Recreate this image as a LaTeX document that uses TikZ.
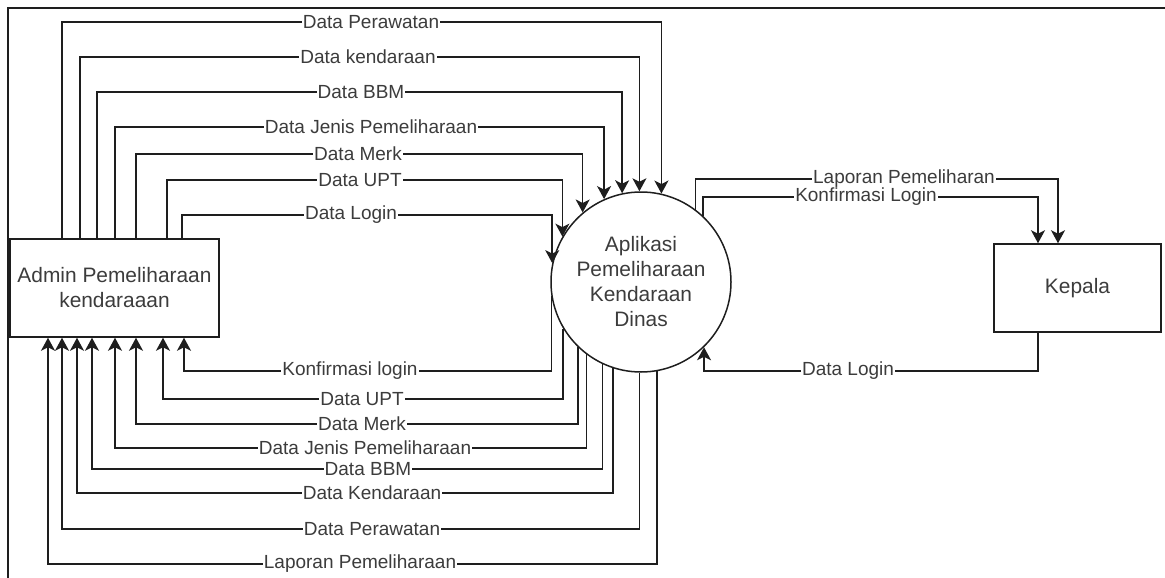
\documentclass[tikz,border=0pt]{standalone}
\usepackage{fontspec}
\setmainfont{Liberation Sans}
\usetikzlibrary{arrows.meta}
\definecolor{ink}{RGB}{30,30,30}
\definecolor{txt}{RGB}{60,60,60}

\begin{document}
\begin{tikzpicture}[x=1pt,y=-1pt,
  flow/.style={draw=ink, line width=1.5pt,
    -{Stealth[length=13pt,width=14pt,inset=3.5pt]}},
  lbl/.style={fill=white, text=txt, font=\fontsize{19}{22}\selectfont,
    inner xsep=1pt, inner ysep=0.5pt},
  entity/.style={draw=ink, line width=1.5pt, rectangle, inner sep=0pt,
    text=txt, font=\fontsize{20.9}{25}\selectfont, align=center},
  process/.style={draw=ink, line width=1.5pt, circle, inner sep=0pt,
    minimum size=180pt, text=txt, font=\fontsize{20.9}{25}\selectfont,
    align=center},
]
\useasboundingbox (0,0) rectangle (1165,578);

% page frame
\draw[ink, line width=2.2pt] (1165,8) -- (8,8) -- (8,578);

% entities and process
\node[entity, minimum width=209pt, minimum height=98pt] (admin) at (114.5,288)
  {Admin Pemeliharaan\\kendaraaan};
\node[entity, minimum width=167pt, minimum height=88pt] (kep) at (1077.5,288)
  {Kepala};
\node[process] (c) at (641,282)
  {Aplikasi\\Pemeliharaan\\Kendaraan\\Dinas};

% admin -> process
\draw[flow] (admin.north -| 62,0)  |- (c.77 |- 0,22)  -- (c.77)
  node[lbl] at (371,22) {Data Perawatan};
\draw[flow] (admin.north -| 80,0)  |- (c.91 |- 0,57)  -- (c.91)
  node[lbl] at (368,57) {Data kendaraan};
\draw[flow] (admin.north -| 97,0)  |- (c.102 |- 0,92) -- (c.102)
  node[lbl] at (361,92) {Data BBM};
\draw[flow] (admin.north -| 115,0) |- (c.114 |- 0,127) -- (c.114)
  node[lbl] at (371,127) {Data Jenis Pemeliharaan};
\draw[flow] (admin.north -| 136,0) |- (c.130 |- 0,154) -- (c.130)
  node[lbl] at (358,154) {Data Merk};
\draw[flow] (admin.north -| 167,0) |- (c.150 |- 0,180) -- (c.150)
  node[lbl] at (360,180) {Data UPT};
\draw[flow] (admin.north -| 182,0) |- (c.168 |- 0,215) -- (c.168)
  node[lbl] at (351,215) {Data Login};

% process -> admin
\draw[flow] (c.189) -- (c.189 |- 0,371) -| (admin.south -| 184,0)
  node[lbl] at (350,371) {Konfirmasi login};
\draw[flow] (c.211) -- (c.211 |- 0,399) -| (admin.south -| 163,0)
  node[lbl] at (362,399) {Data UPT};
\draw[flow] (c.226) -- (c.226 |- 0,424) -| (admin.south -| 136,0)
  node[lbl] at (362,424) {Data Merk};
\draw[flow] (c.233) -- (c.233 |- 0,448) -| (admin.south -| 115,0)
  node[lbl] at (365,448) {Data Jenis Pemeliharaan};
\draw[flow] (c.245) -- (c.245 |- 0,469) -| (admin.south -| 92,0)
  node[lbl] at (368,469) {Data BBM};
\draw[flow] (c.252) -- (c.252 |- 0,493) -| (admin.south -| 77,0)
  node[lbl] at (372,493) {Data Kendaraan};
\draw[flow] (c.269) -- (c.269 |- 0,529) -| (admin.south -| 62,0)
  node[lbl] at (372,529) {Data Perawatan};
\draw[flow] (c.280) -- (c.280 |- 0,564) -| (admin.south -| 48,0)
  node[lbl] at (360,564) {Laporan Pemeliharaan};

% process <-> kepala
\draw[flow] (c.53) -- (c.53 |- 0,179) -| (kep.north -| 1058,0)
  node[lbl] at (904,179) {Laporan Pemeliharan};
\draw[flow] (c.47) -- (c.47 |- 0,197) -| (kep.north -| 1038,0)
  node[lbl] at (866,197) {Konfirmasi Login};
\draw[flow] (kep.south -| 1038,0) |- (c.314 |- 0,371) -- (c.314)
  node[lbl] at (848,371) {Data Login};
\end{tikzpicture}
\end{document}
